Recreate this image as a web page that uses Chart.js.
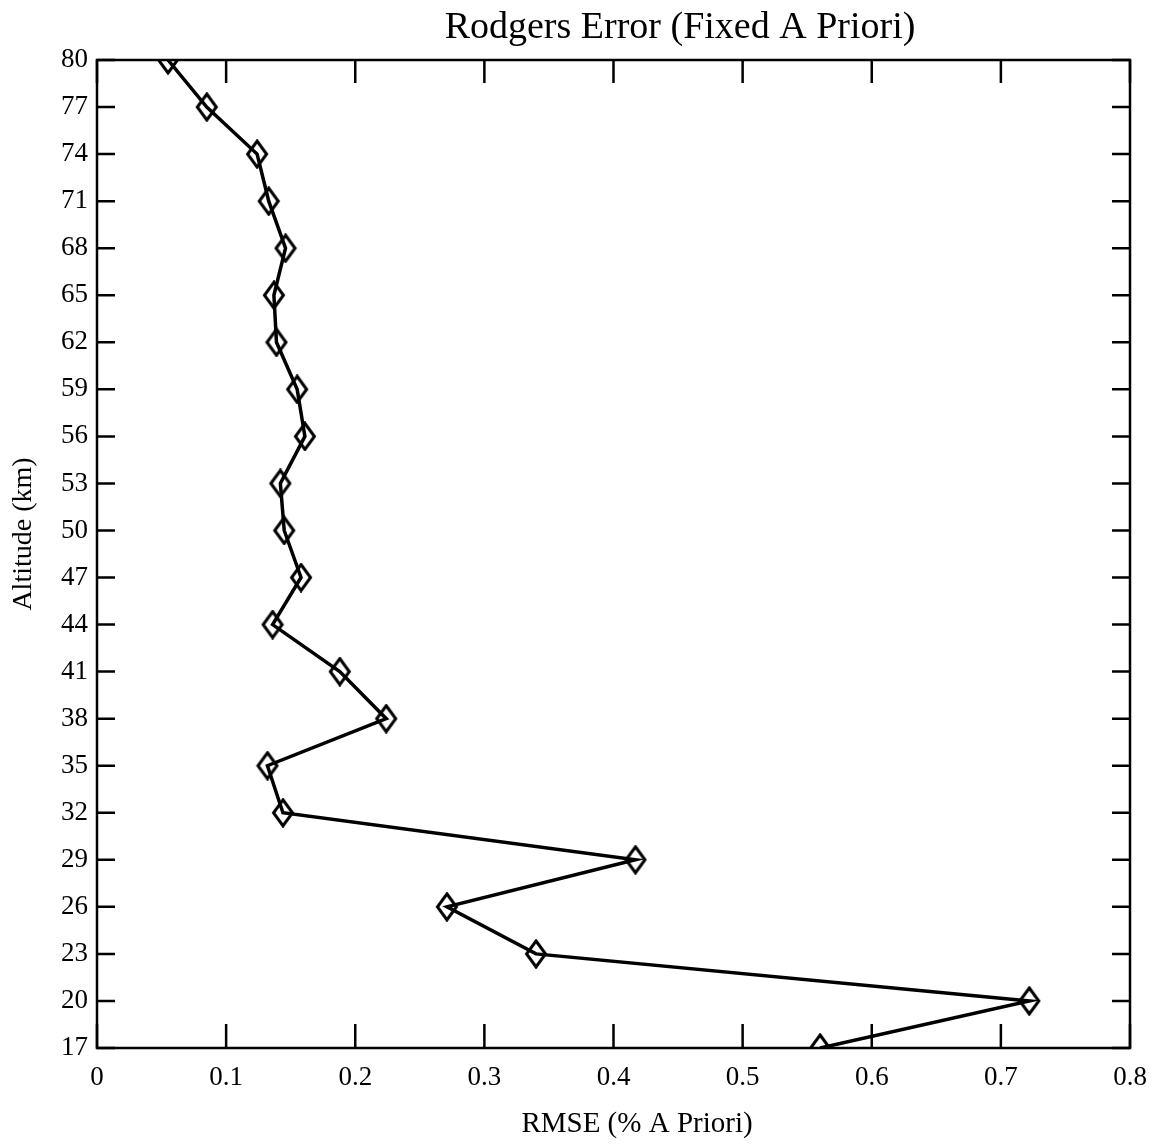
<!DOCTYPE html>
<html>
<head>
<meta charset="utf-8">
<script src="https://cdn.jsdelivr.net/npm/chart.js@4/dist/chart.umd.min.js"></script>
<style>
  body { margin: 0; background: #fff; }
  #wrap { width: 1165px; height: 1148px; }
</style>
</head>
<body>
<div id="wrap"><canvas id="ov" width="1165" height="1148"></canvas></div>
<script>
const altitudes = [80, 77, 74, 71, 68, 65, 62, 59, 56, 53, 50, 47, 44, 41, 38, 35, 32, 29, 26, 23, 20, 17];
const rmseArr = [0.055, 0.085, 0.124, 0.133, 0.146, 0.137, 0.139, 0.155, 0.161, 0.142, 0.145, 0.158,
  0.136, 0.188, 0.224, 0.132, 0.144, 0.417, 0.271, 0.340, 0.722, 0.560];
const xTickArr = [0, 0.1, 0.2, 0.3, 0.4, 0.5, 0.6, 0.7, 0.8];
const yTickArr = [17, 20, 23, 26, 29, 32, 35, 38, 41, 44, 47, 50, 53, 56, 59, 62, 65, 68, 71, 74, 77, 80];

const serif = "'Liberation Serif', 'Times New Roman', serif";

// tall diamond marker
const diamond = document.createElement("canvas");
diamond.width = 24;
diamond.height = 30;
const dctx = diamond.getContext("2d");
dctx.strokeStyle = "#000";
dctx.lineWidth = 3;
dctx.beginPath();
dctx.moveTo(12, 2);
dctx.lineTo(21.5, 15);
dctx.lineTo(12, 28);
dctx.lineTo(2.5, 15);
dctx.closePath();
dctx.stroke();

// box, inward ticks, titles
const framePlugin = {
  id: "frame",
  afterDraw(chart) {
    const { ctx, chartArea: a, scales } = chart;
    ctx.save();
    ctx.strokeStyle = "#000";
    ctx.lineWidth = 2.5;
    ctx.strokeRect(a.left, a.top, a.right - a.left, a.bottom - a.top);
    ctx.beginPath();
    xTickArr.forEach((v) => {
      const px = scales.x.getPixelForValue(v);
      ctx.moveTo(px, a.bottom);
      ctx.lineTo(px, a.bottom - 24);
      ctx.moveTo(px, a.top);
      ctx.lineTo(px, a.top + 23);
    });
    yTickArr.forEach((v) => {
      const py = scales.y.getPixelForValue(v);
      ctx.moveTo(a.left, py);
      ctx.lineTo(a.left + 18, py);
      ctx.moveTo(a.right, py);
      ctx.lineTo(a.right - 18, py);
    });
    ctx.stroke();
    ctx.fillStyle = "#000";
    ctx.textAlign = "center";
    ctx.textBaseline = "middle";
    ctx.font = "38px " + serif;
    ctx.fillText("Rodgers Error (Fixed A Priori)", 680, 28);
    ctx.font = "29px " + serif;
    ctx.fillText("RMSE (% A Priori)", 637, 1124);
    ctx.translate(24, 534);
    ctx.rotate(-Math.PI / 2);
    ctx.font = "28px " + serif;
    ctx.fillText("Altitude (km)", 0, 0);
    ctx.restore();
  },
};

const ctx = document.getElementById("ov").getContext("2d");
const myChart = new Chart(ctx, {
  type: "scatter",
  data: {
    datasets: [
      {
        label: "RMSE",
        data: altitudes.map((alt, i) => ({ x: rmseArr[i], y: alt })),
        showLine: true,
        borderColor: "#000",
        borderWidth: 3.5,
        pointStyle: diamond,
        pointRadius: 12,
      },
    ],
  },
  options: {
    responsive: false,
    animation: false,
    layout: { padding: { top: 60, right: 35, left: 0, bottom: 0 } },
    plugins: {
      legend: { display: false },
      tooltip: { enabled: false },
    },
    scales: {
      x: {
        type: "linear",
        min: 0,
        max: 0.8,
        afterFit: (s) => { s.height = 100; },
        afterBuildTicks: (s) => { s.ticks = xTickArr.map((v) => ({ value: v })); },
        grid: { display: false, drawTicks: false },
        border: { display: false },
        ticks: {
          color: "#000",
          padding: 14,
          font: { family: serif, size: 27 },
          callback: (v) => String(v),
        },
      },
      y: {
        type: "linear",
        min: 17,
        max: 80,
        afterFit: (s) => { s.width = 97; },
        afterBuildTicks: (s) => { s.ticks = yTickArr.map((v) => ({ value: v })); },
        grid: { display: false, drawTicks: false },
        border: { display: false },
        ticks: {
          color: "#000",
          padding: 9,
          font: { family: serif, size: 27 },
        },
      },
    },
  },
  plugins: [framePlugin],
});
</script>
</body>
</html>
